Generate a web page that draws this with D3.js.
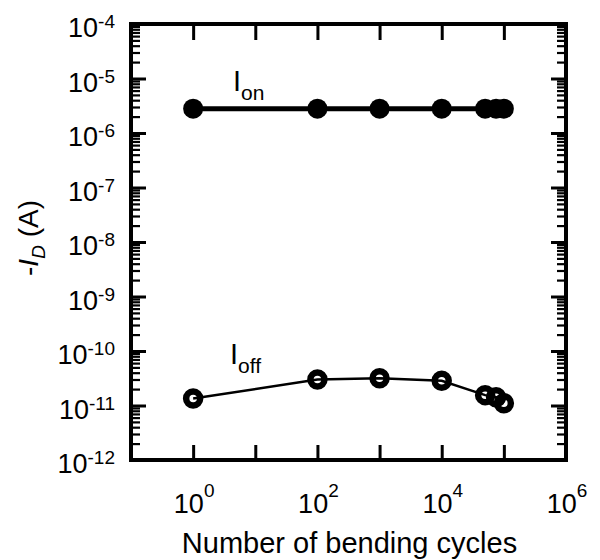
<!DOCTYPE html>
<html>
<head>
<meta charset="utf-8">
<script src="https://cdn.jsdelivr.net/npm/d3@7"></script>
<style>
  html, body { margin: 0; padding: 0; background: #fff; }
  svg { display: block; font-family: "Liberation Sans", Arial, sans-serif; }
</style>
</head>
<body>
<svg id="chart" width="600" height="560"></svg>
<script>
// ---- data ----
const cycles = [1, 100, 1000, 10000, 50000, 75000, 100000];
const ionValues = [2.8e-6, 2.8e-6, 2.8e-6, 2.8e-6, 2.8e-6, 2.8e-6, 2.8e-6];
const ioffValues = [1.34e-11, 3.0e-11, 3.15e-11, 2.85e-11, 1.55e-11, 1.42e-11, 1.1e-11];
const xTickExponents = [0, 2, 4, 6];
const yTickExponents = [-4, -5, -6, -7, -8, -9, -10, -11, -12];
const xTitle = "Number of bending cycles";

// ---- layout ----
const svg = d3.select("#chart");
const L = 131, R = 566, T = 24, B = 460;
const x = d3.scaleLog().domain([0.1, 1e6]).range([L, R]);
const y = d3.scaleLog().domain([1e-12, 1e-4]).range([B, T]);

const xMajors = d3.range(0, 6).map(e => Math.pow(10, e));
const yMajors = d3.range(-11, -4).map(e => Math.pow(10, e));
const yMinors = [];
for (let e = -12; e < -4; e++) for (let m = 2; m <= 9; m++) yMinors.push(m * Math.pow(10, e));

function styleAxis(g, w) {
  g.select(".domain").remove();
  g.selectAll(".tick line").attr("stroke", "#000").attr("stroke-width", w);
  g.selectAll(".tick text").remove();
}

// y axes (left and right), inward ticks
svg.append("g").attr("transform", `translate(${L},0)`)
  .call(d3.axisLeft(y).tickValues(yMinors).tickSize(-9).tickFormat(""))
  .call(g => styleAxis(g, 2.2));
svg.append("g").attr("transform", `translate(${L},0)`)
  .call(d3.axisLeft(y).tickValues(yMajors).tickSize(-15).tickFormat(""))
  .call(g => styleAxis(g, 3));
svg.append("g").attr("transform", `translate(${R},0)`)
  .call(d3.axisRight(y).tickValues(yMinors).tickSize(-9).tickFormat(""))
  .call(g => styleAxis(g, 2.2));
svg.append("g").attr("transform", `translate(${R},0)`)
  .call(d3.axisRight(y).tickValues(yMajors).tickSize(-15).tickFormat(""))
  .call(g => styleAxis(g, 3));
// x axes (top and bottom)
svg.append("g").attr("transform", `translate(0,${B})`)
  .call(d3.axisBottom(x).tickValues(xMajors).tickSize(-15).tickFormat(""))
  .call(g => styleAxis(g, 3));
svg.append("g").attr("transform", `translate(0,${T})`)
  .call(d3.axisTop(x).tickValues(xMajors).tickSize(-16).tickFormat(""))
  .call(g => styleAxis(g, 3));

// frame
svg.append("rect").attr("x", L).attr("y", T).attr("width", R - L).attr("height", B - T)
  .attr("fill", "none").attr("stroke", "#000").attr("stroke-width", 4);

// tick labels
xTickExponents.forEach(e => {
  const t = svg.append("text").attr("x", x(Math.pow(10, e)) + 1).attr("y", 513)
    .attr("text-anchor", "middle").attr("font-size", 27).attr("fill", "#000");
  t.append("tspan").text("10");
  t.append("tspan").attr("dy", -16).attr("font-size", 19).text(String(e));
});
yTickExponents.forEach(e => {
  const t = svg.append("text").attr("x", 115).attr("y", y(Math.pow(10, e)) + 13)
    .attr("text-anchor", "end").attr("font-size", 27).attr("fill", "#000");
  t.append("tspan").text("10");
  t.append("tspan").attr("dy", -9).attr("font-size", 19).text(String(e));
});

// axis titles
svg.append("text").attr("x", (L + R) / 2 + 1).attr("y", 553).attr("text-anchor", "middle")
  .attr("font-size", 29).attr("fill", "#000").text(xTitle);
const yt = svg.append("text").attr("transform", `translate(38,${(T + B) / 2 - 4}) rotate(-90)`)
  .attr("text-anchor", "middle").attr("font-size", 28).attr("fill", "#000");
yt.append("tspan").text("-");
yt.append("tspan").attr("font-style", "italic").text("I");
yt.append("tspan").attr("font-style", "italic").attr("font-size", 19).attr("dy", 7).text("D");
yt.append("tspan").attr("dy", -7).text(" (A)");

// series
const line = d3.line().x(d => x(d[0])).y(d => y(d[1]));
const onData = cycles.map((c, i) => [c, ionValues[i]]);
const offData = cycles.map((c, i) => [c, ioffValues[i]]);

svg.append("path").datum(onData).attr("d", line).attr("fill", "none")
  .attr("stroke", "#000").attr("stroke-width", 5);
svg.append("g").selectAll("circle").data(onData).join("circle")
  .attr("cx", d => x(d[0])).attr("cy", d => y(d[1])).attr("r", 10).attr("fill", "#000");

svg.append("path").datum(offData).attr("d", line).attr("fill", "none")
  .attr("stroke", "#000").attr("stroke-width", 2.5);
svg.append("g").selectAll("circle").data(offData).join("circle")
  .attr("cx", d => x(d[0])).attr("cy", d => y(d[1])).attr("r", 7)
  .attr("fill", "none").attr("stroke", "#000").attr("stroke-width", 6.5);

// series labels
function seriesLabel(px, py, sub) {
  const t = svg.append("text").attr("x", px).attr("y", py).attr("font-size", 29).attr("fill", "#000");
  t.append("tspan").text("I");
  t.append("tspan").attr("font-size", 21).attr("dy", 9).text(sub);
}
seriesLabel(233, 91, "on");
seriesLabel(230, 364, "off");
</script>
</body>
</html>
